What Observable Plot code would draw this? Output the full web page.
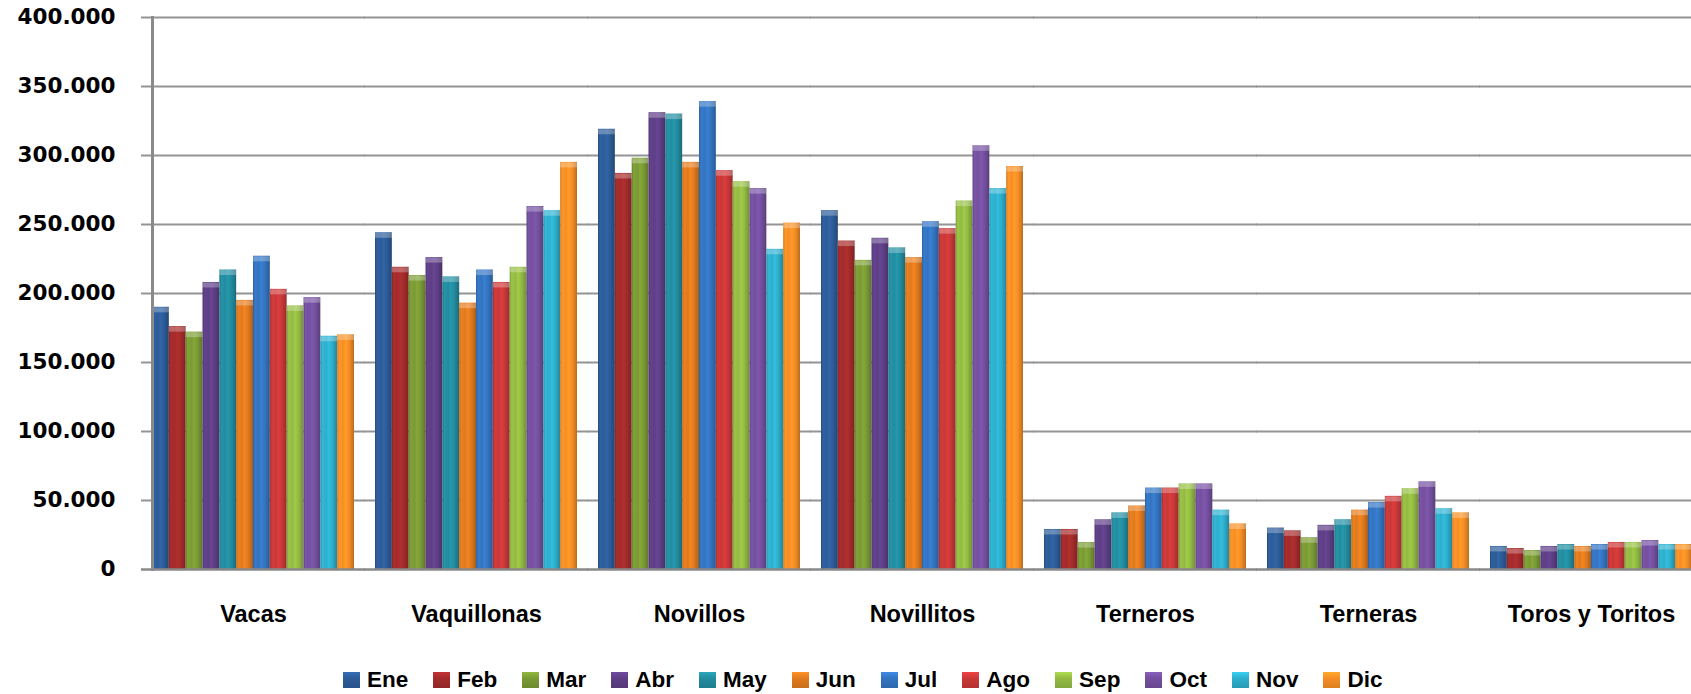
<!DOCTYPE html>
<html>
<head>
<meta charset="utf-8">
<script src="https://cdn.jsdelivr.net/npm/d3@7"></script>
<script src="https://cdn.jsdelivr.net/npm/@observablehq/plot@0.6"></script>
<style>
  html, body { margin: 0; padding: 0; background: #fff; overflow: hidden; width: 1691px; height: 694px; }
  #chart { position: absolute; left: 0; top: 0; width: 1703px; }
  #chart svg { max-width: none !important; }
  #legend { position: absolute; left: 343px; top: 664px; height: 32px; display: flex; align-items: center;
            font-family: "Liberation Sans", Arial, sans-serif; font-weight: bold; font-size: 22.5px; color: #000; white-space: nowrap; }
  .item { display: flex; align-items: center; margin-right: 25px; }
  .sw { width: 17px; height: 16px; margin-right: 7px; }
</style>
</head>
<body>
<div id="chart"></div>
<div id="legend"></div>
<script>
const categories = ["Vacas", "Vaquillonas", "Novillos", "Novillitos", "Terneros", "Terneras", "Toros y Toritos"];
const months = ["Ene", "Feb", "Mar", "Abr", "May", "Jun", "Jul", "Ago", "Sep", "Oct", "Nov", "Dic"];
const monthColors = ["#2D5C98", "#A32B2B", "#7A9A35", "#5E3F86", "#238C9F", "#E07A1E", "#3474C0", "#C93838", "#93BA43", "#74509F", "#2EAECC", "#F58E25"];

const vacas       = [190000, 176000, 172000, 208000, 217000, 195000, 227000, 203000, 191000, 197000, 169000, 170000];
const vaquillonas = [244000, 219000, 213000, 226000, 212000, 193000, 217000, 208000, 219000, 263000, 260000, 295000];
const novillos    = [319000, 287000, 298000, 331000, 330000, 295000, 339000, 289000, 281000, 276000, 232000, 251000];
const novillitos  = [260000, 238000, 224000, 240000, 233000, 226000, 252000, 247000, 267000, 307000, 276000, 292000];
const terneros    = [29000, 29000, 19500, 36000, 41000, 46000, 59000, 59000, 62000, 62000, 43000, 33000];
const terneras    = [30000, 28000, 23000, 32000, 36000, 43000, 48500, 53000, 58500, 63500, 44000, 41000];
const toros       = [16700, 15200, 13800, 16700, 18100, 16700, 18100, 19600, 19600, 21000, 18100, 18100];

const yTicks = [0, 50000, 100000, 150000, 200000, 250000, 300000, 350000, 400000];

const series = [vacas, vaquillonas, novillos, novillitos, terneros, terneras, toros];
const rows = [];
categories.forEach((c, ci) => months.forEach((m, mi) => rows.push({category: c, month: m, value: series[ci][mi]})));

const locale = d3.formatLocale({decimal: ",", thousands: ".", grouping: [3], currency: ["", ""]});
const fmt = locale.format(",d");

const chart = Plot.plot({
  width: 1703,
  height: 655,
  marginLeft: 142,
  marginRight: 0,
  marginTop: 17,
  marginBottom: 86,
  style: {fontFamily: "'DejaVu Sans', sans-serif", color: "#000", background: "#fff", overflow: "visible", maxWidth: "none"},
  fx: {domain: categories, paddingInner: 0.094, paddingOuter: 0.047, label: null},
  x: {domain: months, padding: 0, round: false, axis: null},
  y: {domain: [0, 400000], axis: null},
  color: {domain: months, range: months.map((m, i) => `url(#grad-${i})`)},
  marks: [
    Plot.ruleY(yTicks.slice(1), {stroke: "#949494", strokeWidth: 2, insetLeft: -11, insetRight: -11}),
    Plot.barY(rows, {fx: "category", x: "month", y: "value", fill: "month"}),
    Plot.tickY(rows, {fx: "category", x: "month", y: "value", stroke: "white", strokeOpacity: 0.28, strokeWidth: 5, dy: 2.5}),
    Plot.ruleY([0], {stroke: "#888", strokeWidth: 2.5, insetLeft: -11, insetRight: -11}),
    Plot.frame({anchor: "left", facet: "super", stroke: "#8a8a8a", strokeWidth: 3}),
    Plot.axisY({ticks: yTicks, tickSize: 0, tickPadding: 37, tickFormat: fmt, fontSize: 21.5, fontWeight: "bold", label: null}),
    Plot.axisFx({anchor: "bottom", tickSize: 0, tickPadding: 36, fontSize: 23.5, fontWeight: "bold", label: null, fontFamily: "'Liberation Sans', Arial, sans-serif"})
  ]
});

// gradients for cylinder-like bars
const ns = "http://www.w3.org/2000/svg";
const defs = document.createElementNS(ns, "defs");
monthColors.forEach((c, i) => {
  const g = document.createElementNS(ns, "linearGradient");
  g.setAttribute("id", `grad-${i}`);
  g.setAttribute("x1", "0"); g.setAttribute("x2", "1"); g.setAttribute("y1", "0"); g.setAttribute("y2", "0");
  const base = d3.color(c);
  const stops = [
    [0, base.darker(0.5)], [0.12, base.brighter(0.15)], [0.35, base], [0.5, base.brighter(0.25)],
    [0.7, base], [0.9, base.darker(0.45)], [1, base.darker(0.8)]
  ];
  stops.forEach(([o, col]) => {
    const s = document.createElementNS(ns, "stop");
    s.setAttribute("offset", o);
    s.setAttribute("stop-color", col.formatHex());
    g.appendChild(s);
  });
  defs.appendChild(g);
});
chart.insertBefore(defs, chart.firstChild);
document.getElementById("chart").appendChild(chart);

// legend
const legend = document.getElementById("legend");
months.forEach((m, i) => {
  const base = d3.color(monthColors[i]);
  const item = document.createElement("div");
  item.className = "item";
  const sw = document.createElement("div");
  sw.className = "sw";
  sw.style.background = `linear-gradient(to bottom, ${base.brighter(0.5).formatHex()} 0%, ${base.formatHex()} 40%, ${base.darker(0.3).formatHex()} 100%)`;
  const t = document.createElement("span");
  t.textContent = m;
  item.appendChild(sw);
  item.appendChild(t);
  legend.appendChild(item);
});
</script>
</body>
</html>
